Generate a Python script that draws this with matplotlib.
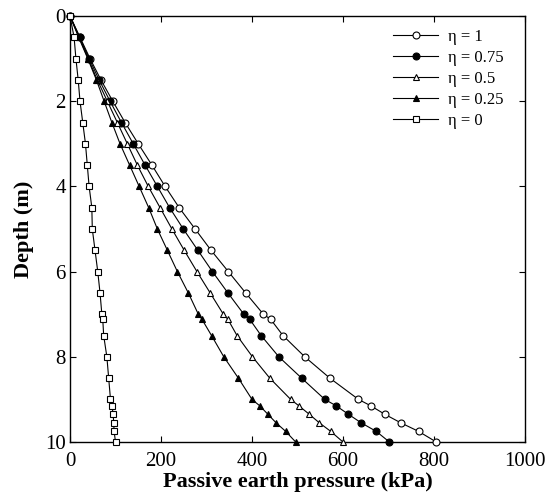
import matplotlib
matplotlib.use("Agg")
import matplotlib.pyplot as plt

depth = [0, 0.5, 1, 1.5, 2, 2.5, 3, 3.5, 4, 4.5, 5, 5.5, 6, 6.5, 7, 7.12,
         7.5, 8, 8.5, 9, 9.15, 9.35, 9.55, 9.75, 10]

p_eta_1 = [0, 22, 44, 68, 94, 121, 150, 180, 209, 240, 275, 310, 348, 386,
           425, 441, 468, 516, 571, 634, 661, 692, 727, 766, 805]
p_eta_075 = [0, 21, 42, 64, 88, 113, 139, 165, 192, 219, 249, 281, 313, 347,
             382, 395, 420, 459, 509, 560, 585, 612, 640, 673, 702]
p_eta_05 = [0, 20, 40, 60, 82, 104, 126, 148, 172, 198, 224, 251, 279, 308,
            337, 347, 367, 401, 439, 485, 503, 526, 548, 573, 600]
p_eta_025 = [0, 19, 39, 58, 75, 92, 110, 131, 152, 173, 192, 214, 236, 260,
             282, 290, 311, 338, 370, 400, 417, 435, 453, 474, 496]
p_eta_0 = [0, 9, 13, 18, 22, 28, 34, 38, 42, 48, 49, 55, 61, 66,
           70, 72, 74, 81, 85, 89, 92, 95, 96, 97, 100]

labels = ["η = 1", "η = 0.75", "η = 0.5", "η = 0.25", "η = 0"]
series = [p_eta_1, p_eta_075, p_eta_05, p_eta_025, p_eta_0]
markers = ["o", "o", "^", "^", "s"]
faces = ["white", "black", "white", "black", "white"]

plt.rcParams['font.family'] = ['Liberation Serif', 'DejaVu Serif']

fig = plt.figure(figsize=(5.49, 4.98), dpi=100)
ax = fig.add_axes([70 / 549, 1 - 442 / 498, 455 / 549, 426 / 498])

for vals, lab, m, fc in zip(series, labels, markers, faces):
    ax.plot(vals, depth, color="black", linewidth=0.8, marker=m,
            markersize=5, markerfacecolor=fc, markeredgecolor="black",
            markeredgewidth=0.8, label=lab, clip_on=False, zorder=3)

ax.set_xlim(0, 1000)
ax.set_ylim(10, 0)
ax.set_xticks([0, 200, 400, 600, 800, 1000])
ax.set_yticks([0, 2, 4, 6, 8, 10])
ax.tick_params(direction="in", top=True, right=True, labelsize=15,
               length=4, width=0.8)
ax.tick_params(axis="y", pad=3)
ax.tick_params(axis="x", pad=7)
for s in ax.spines.values():
    s.set_linewidth(1.0)

ax.set_xlabel("Passive earth pressure (kPa)", fontsize=16, fontweight="bold",
              labelpad=1)
ax.set_ylabel("Depth (m)", fontsize=16, fontweight="bold", labelpad=8)

leg = ax.legend(loc="upper right", frameon=False, fontsize=12,
                handlelength=2.7, handletextpad=0.55, labelspacing=0.3,
                borderaxespad=0.5, bbox_to_anchor=(0.985, 1.004))

fig.savefig("out.png", dpi=100)
